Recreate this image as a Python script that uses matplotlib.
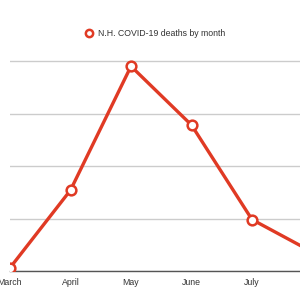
import matplotlib.pyplot as plt

plt.rcParams['font.family'] = ['Liberation Sans', 'DejaVu Sans']

months = ["March", "April", "May", "June", "July", "August"]
deaths = [3, 77, 195, 139, 49, 18]
yticks = [0, 50, 100, 150, 200]

red = "#e03a24"

fig = plt.figure(figsize=(3, 3), dpi=100)
# axes spans past the right edge so the chart looks cropped like the reference
ax = fig.add_axes([10 / 300, 29 / 300, 290 / 300, 225 / 300])

ax.plot(range(len(months)), deaths, color=red, lw=2.4, marker="o",
        markersize=7, markerfacecolor="white", markeredgecolor=red,
        markeredgewidth=1.8, label="N.H. COVID-19 deaths by month", zorder=3)

ax.set_xticks(range(len(months)))
ax.set_xticklabels(months)
ax.set_yticks(yticks)
ax.set_yticklabels([str(v) for v in yticks])
ax.set_xlim(0, 290 / 60.5)
ax.set_ylim(0, 200 * 225 / 210)
ax.tick_params(length=0, labelsize=6.3, colors="#333333")
ax.tick_params(axis="y", pad=8)
ax.tick_params(axis="x", pad=5)

ax.grid(axis="y", color="#cccccc", lw=1)
ax.grid(axis="x", visible=False)
for s in ["top", "right", "left"]:
    ax.spines[s].set_visible(False)
ax.spines["bottom"].set_color("#555555")
ax.spines["bottom"].set_linewidth(1)

leg = ax.legend(loc="center", bbox_to_anchor=(155 / 300, 1 - 34 / 300),
                bbox_transform=fig.transFigure, frameon=False, fontsize=6.3,
                handlelength=1.0, handletextpad=0.5, markerscale=0.75)
for t in leg.get_texts():
    t.set_color("#333333")
for h in leg.legend_handles:
    h.set_linestyle("none")

fig.savefig("out.png", dpi=100)
